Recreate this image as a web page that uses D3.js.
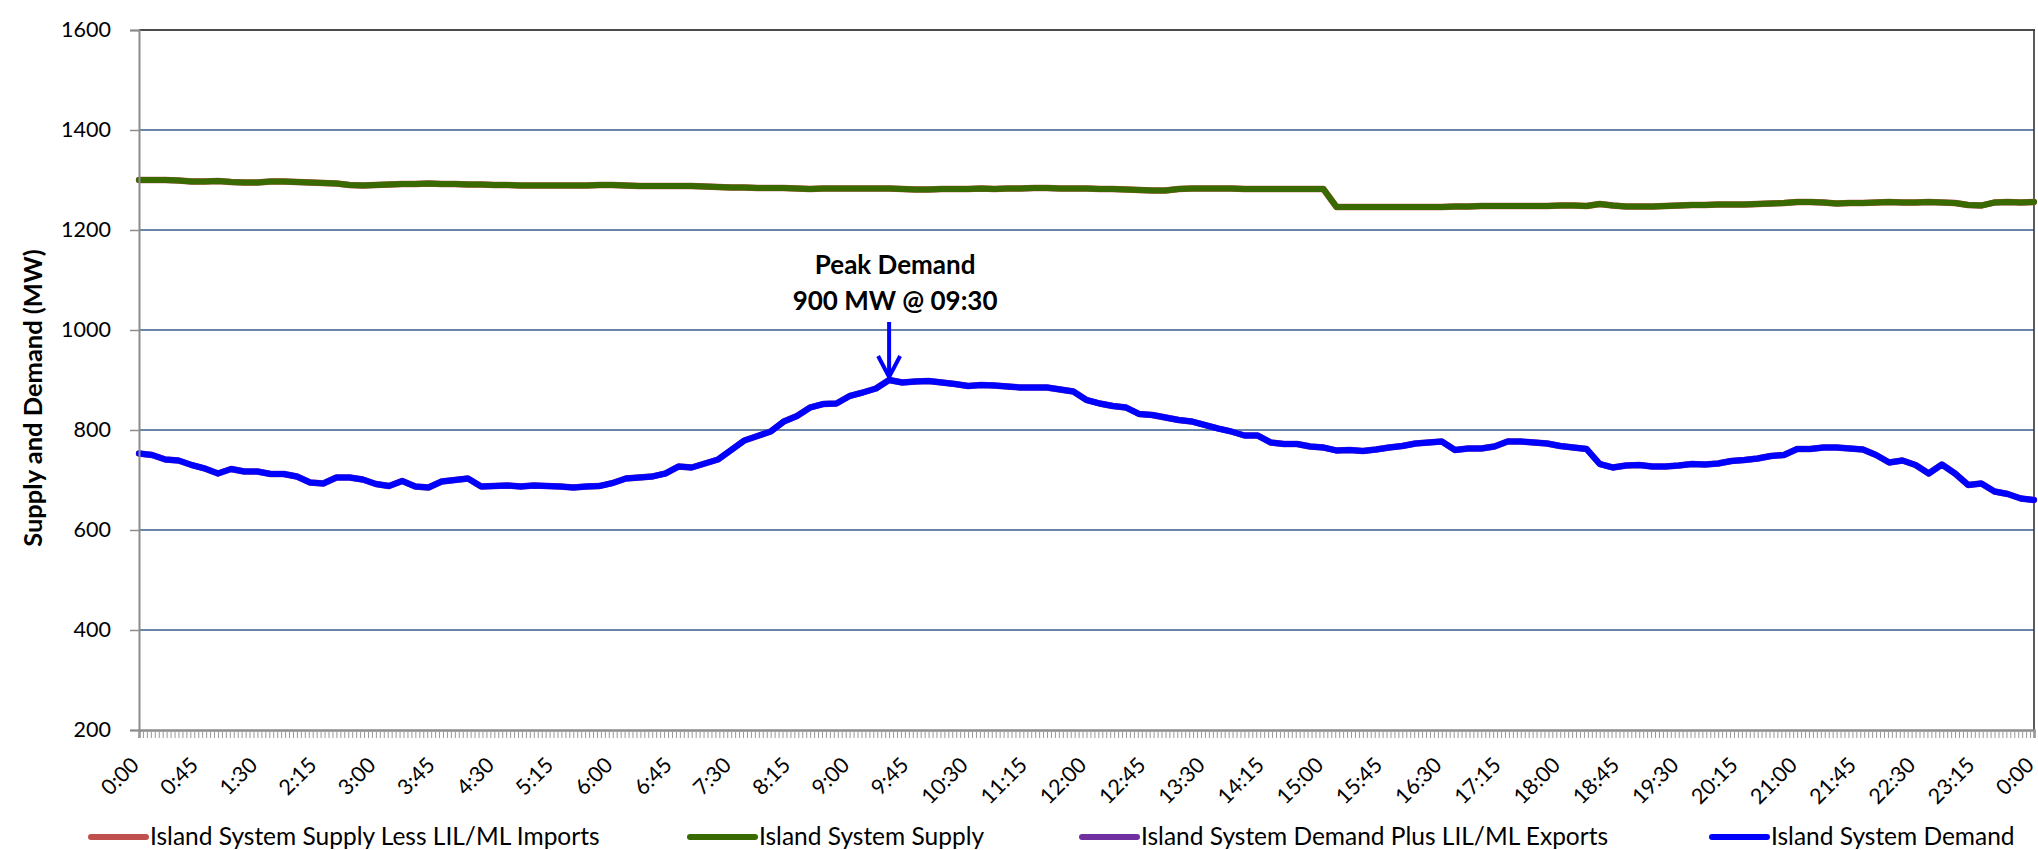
<!DOCTYPE html>
<html><head><meta charset="utf-8">
<script src="https://cdn.jsdelivr.net/npm/d3@7"></script>
<style>
html,body{margin:0;padding:0;background:#fff;}
svg{display:block;font-family:Lato,"Open Sans",sans-serif;}
</style></head><body>
<svg id="chart" width="2038" height="850"></svg>
<script>
// ---- DATA ----
// time categories in minutes after midnight (10-minute readings, 0:00 to next-day 0:00)
const timeMinutes = d3.range(0, 1441, 10);

const seriesNames = [
  "Island System Supply Less LIL/ML Imports",
  "Island System Supply",
  "Island System Demand Plus LIL/ML Exports",
  "Island System Demand"
];

// Island System Supply (MW)
const supply = [
  1300,1300,1300,1299,1297,1297,1298,1296,1295,1295,1297,1297,
  1296,1295,1294,1293,1290,1289,1290,1291,1292,1292,1293,1292,
  1292,1291,1291,1290,1290,1289,1289,1289,1289,1289,1289,1290,
  1290,1289,1288,1288,1288,1288,1288,1287,1286,1285,1285,1284,
  1284,1284,1283,1282,1283,1283,1283,1283,1283,1283,1282,1281,
  1281,1282,1282,1282,1283,1282,1283,1283,1284,1284,1283,1283,
  1283,1282,1282,1281,1280,1279,1279,1282,1283,1283,1283,1283,
  1282,1282,1282,1282,1282,1282,1282,1246,1246,1246,1246,1246,
  1246,1246,1246,1246,1247,1247,1248,1248,1248,1248,1248,1248,
  1249,1249,1248,1252,1249,1247,1247,1247,1248,1249,1250,1250,
  1251,1251,1251,1252,1253,1254,1256,1256,1255,1253,1254,1254,
  1255,1256,1255,1255,1256,1255,1254,1250,1249,1255,1256,1255,
  1256
];

// Island System Demand (MW)
const demand = [
  753,750,741,739,730,723,713,722,717,717,712,712,
  707,695,693,705,705,701,692,688,698,687,685,697,
  700,703,687,688,689,687,689,688,687,685,687,688,
  694,703,705,707,713,727,725,733,741,760,779,788,
  797,817,828,845,852,853,868,875,883,900,895,897,
  898,895,892,888,890,889,887,885,885,885,881,877,
  860,853,848,845,832,830,825,820,817,810,803,797,
  789,789,775,772,772,767,765,759,760,758,761,765,
  768,773,775,777,760,763,763,767,777,777,775,773,
  768,765,762,732,725,729,730,727,727,729,732,731,
  733,738,740,743,748,750,762,762,765,765,763,761,
  750,735,739,730,713,731,713,690,693,677,672,663,
  660
];

// Series hidden underneath in the picture: they coincide with the two visible lines
const supplyLessImports = supply;
const demandPlusExports = demand;

const yTicks = [200, 400, 600, 800, 1000, 1200, 1400, 1600];
const xTickMinutes = d3.range(0, 1441, 45);
const xTickLabels = ["0:00","0:45","1:30","2:15","3:00","3:45","4:30","5:15","6:00","6:45",
  "7:30","8:15","9:00","9:45","10:30","11:15","12:00","12:45","13:30","14:15","15:00",
  "15:45","16:30","17:15","18:00","18:45","19:30","20:15","21:00","21:45","22:30","23:15","0:00"];
const minorTickStep = 3;

const peakMinute = 570, peakValue = 900;
const peakLabel = ["Peak Demand", "900 MW @ 09:30"];

// ---- CHART ----
const svg = d3.select("#chart");
const L = 139, R = 2034, T = 30, B = 730;
const x = d3.scaleLinear().domain([0, 1440]).range([L, R]);
const y = d3.scaleLinear().domain([200, 1600]).range([B, T]);

const colors = ["#c0504d", "#386a00", "#7030a0", "#0000ff"];

// gridlines
svg.append("g").selectAll("line").data(yTicks.filter(v => v > 200 && v < 1600)).join("line")
  .attr("x1", L).attr("x2", R).attr("y1", d => y(d)).attr("y2", d => y(d))
  .attr("stroke", "#385d8a").attr("stroke-width", 1.5);
// top border & right border
svg.append("line").attr("x1", L).attr("x2", R + 1).attr("y1", y(1600)).attr("y2", y(1600))
  .attr("stroke", "#111").attr("stroke-width", 1.6);
svg.append("line").attr("x1", R).attr("x2", R).attr("y1", T).attr("y2", B)
  .attr("stroke", "#333").attr("stroke-width", 1.6);

// lines
const line = d3.line().x((d, i) => x(timeMinutes[i])).y(d => y(d)).curve(d3.curveLinear);
const seriesData = [supplyLessImports, supply, demandPlusExports, demand];
[0, 1, 2, 3].forEach(k => {
  svg.append("path").datum(seriesData[k]).attr("d", line)
    .attr("fill", "none").attr("stroke", colors[k]).attr("stroke-width", k % 2 === 0 ? 6.4 : 6)
    .attr("stroke-linejoin", "round").attr("stroke-linecap", "round");
});

// y axis
const yAxis = svg.append("g").attr("transform", `translate(${L},0)`)
  .call(d3.axisLeft(y).tickValues(yTicks).tickSize(9).tickPadding(19).tickFormat(d3.format("d")));
yAxis.select(".domain").attr("stroke", "#8c8c8c").attr("stroke-width", 2);
yAxis.selectAll(".tick line").attr("stroke", "#8c8c8c").attr("stroke-width", 1.5);
yAxis.selectAll(".tick text").attr("font-size", 21.5).attr("fill", "#000")
  .attr("font-family", "Lato, sans-serif");

// x axis (minor ticks)
const xAxis = svg.append("g").attr("transform", `translate(0,${B})`)
  .call(d3.axisBottom(x).tickValues(d3.range(0, 1441, minorTickStep)).tickSize(8).tickFormat(""));
xAxis.select(".domain").attr("stroke", "#8c8c8c").attr("stroke-width", 2.5);
xAxis.selectAll(".tick line").attr("stroke", "#999").attr("stroke-width", 1);

// x labels
svg.append("g").selectAll("text").data(xTickMinutes).join("text")
  .attr("transform", d => `translate(${x(d) - 4},${B + 31}) rotate(-45)`)
  .attr("text-anchor", "end").attr("dy", "0.35em")
  .attr("font-size", 21.5).attr("fill", "#000")
  .text((d, i) => xTickLabels[i]);

// y title
svg.append("text").attr("transform", `translate(33,${(T + B) / 2 + 18}) rotate(-90)`)
  .attr("text-anchor", "middle").attr("dy", "0.35em")
  .attr("font-size", 25.5).attr("font-weight", "bold").text("Supply and Demand (MW)");

// annotation
const px = x(peakMinute);
svg.append("text").attr("x", px + 6).attr("y", 274).attr("text-anchor", "middle")
  .attr("font-size", 26).attr("font-weight", "bold").text(peakLabel[0]);
svg.append("text").attr("x", px + 6).attr("y", 310).attr("text-anchor", "middle")
  .attr("font-size", 26).attr("font-weight", "bold").text(peakLabel[1]);
const tipY = y(peakValue) - 3;
svg.append("line").attr("x1", px).attr("x2", px).attr("y1", 322).attr("y2", tipY)
  .attr("stroke", "#0000ff").attr("stroke-width", 4);
svg.append("polyline")
  .attr("points", `${px - 11},${tipY - 21} ${px},${tipY} ${px + 11},${tipY - 21}`)
  .attr("fill", "none").attr("stroke", "#0000ff").attr("stroke-width", 4)
  .attr("stroke-linejoin", "miter");

// legend
const legendX = [91, 690, 1082, 1712];
const lg = svg.append("g").selectAll("g").data(seriesNames).join("g")
  .attr("transform", (d, i) => `translate(${legendX[i]},837)`);
lg.append("line").attr("x1", 0).attr("x2", (d, i) => i === 1 ? 65 : 55).attr("y1", 0).attr("y2", 0)
  .attr("stroke", (d, i) => colors[i]).attr("stroke-width", 6).attr("stroke-linecap", "round");
lg.append("text").attr("x", (d, i) => i === 1 ? 69 : 59).attr("y", 8).attr("font-size", 24.5).text(d => d);
</script>
</body></html>
